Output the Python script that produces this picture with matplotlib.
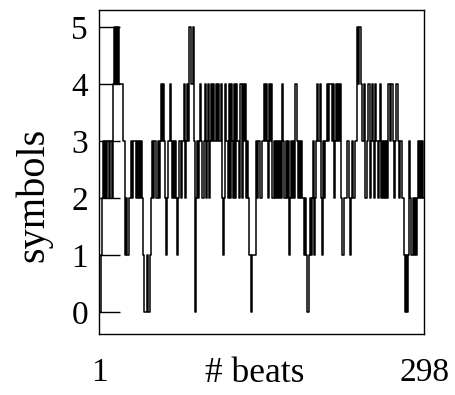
import matplotlib
matplotlib.use("Agg")
import matplotlib.pyplot as plt

plt.rcParams['font.family'] = ['Liberation Serif', 'DejaVu Serif']

# symbol assigned to each beat, beats 1..298
symbols = [
    # beats 1-59
    0, 0, 1, 2,
    3, 2, 3, 2, 3, 3, 2, 3, 2,
    4, 5, 4, 5, 4, 5, 4,
    4, 4,
    3, 3,
    1, 2, 1, 1, 2, 2,
    3, 2, 3, 3, 2, 3, 2,
    3, 2, 3, 2,
    1, 0, 0, 1, 0, 0, 1,
    2, 3, 2, 3, 3, 2, 3, 2, 3, 4, 3,
    # beats 60-119
    4, 3, 2,
    1, 2, 3,
    4, 3, 2,
    3, 2, 3, 2, 1,
    2, 3, 2, 3,
    3, 4, 2, 3, 4,
    3, 5, 5, 4, 5, 3, 0,
    2, 3, 2, 3, 4, 3, 2, 3, 4, 2, 3, 4, 2,
    3, 4, 3, 4, 3, 4, 3, 4, 3, 3, 4, 2, 1, 2, 4, 3, 2,
    # beats 120-178
    4, 2, 4, 3, 2, 4, 2, 4, 3, 2, 4, 4, 2, 4, 3, 4, 2, 3,
    2, 1, 0, 1, 1, 1, 1, 3,
    2, 3, 3, 2, 3, 3,
    4, 3, 4, 3, 2, 4, 3, 4, 2,
    3, 2, 3, 2, 3, 2, 3, 2, 4, 3,
    2, 3, 2, 3, 1, 2, 3, 2,
    # beats 179-238
    3, 2, 4, 3, 2, 3, 2, 3, 2,
    2, 1, 2, 1, 0, 1, 2, 1, 2,
    3, 1, 2,
    3, 4, 3, 4, 2, 1, 3, 2, 3,
    3, 4, 3, 4, 4, 3, 4, 2, 3, 4, 3, 4, 3, 4,
    2, 1, 2, 2, 2, 3,
    3, 2, 1, 2, 3, 2, 3, 3,
    5, 4,
    # beats 239-298
    5, 5, 4, 3,
    3, 4, 2, 3, 4, 4, 2, 3, 4, 3, 2, 4, 3, 2, 3, 4, 2,
    3, 2, 3, 2, 3, 2,
    4, 3, 4, 4, 3, 2, 3, 4, 4, 3,
    2, 3, 2, 2, 1,
    0, 1, 0, 1,
    3, 2, 1, 2, 1, 2,
    1, 2, 3, 2, 3, 2, 3, 2,
]
beats = list(range(1, len(symbols) + 1))

y_ticks = [0, 1, 2, 3, 4, 5]
x_ticks = [1, 298]

fig = plt.figure(figsize=(4.55, 3.95), dpi=100)
ax = fig.add_axes([0.2176, 0.1544, 0.7143, 0.8215])

ax.plot(beats, symbols, color='black', linewidth=1.1, drawstyle='steps-mid')

ax.set_xlim(1, 298)
ax.set_ylim(-0.39, 5.31)
ax.set_yticks(y_ticks)
ax.set_xticks(x_ticks)
ax.set_xticklabels([str(t) for t in x_ticks])

ax.tick_params(axis='y', direction='in', length=15, width=1.0, pad=8, labelsize=24)
ax.tick_params(axis='x', direction='in', length=0, pad=17, labelsize=24)
for sp in ax.spines.values():
    sp.set_linewidth(1.0)

ax.set_xlabel('# beats', fontsize=25.5)
ax.xaxis.set_label_coords(0.48, -0.072)
ax.set_ylabel('symbols', fontsize=29)
ax.yaxis.set_label_coords(-0.142, 0.43)

fig.savefig('out.png', dpi=100)
